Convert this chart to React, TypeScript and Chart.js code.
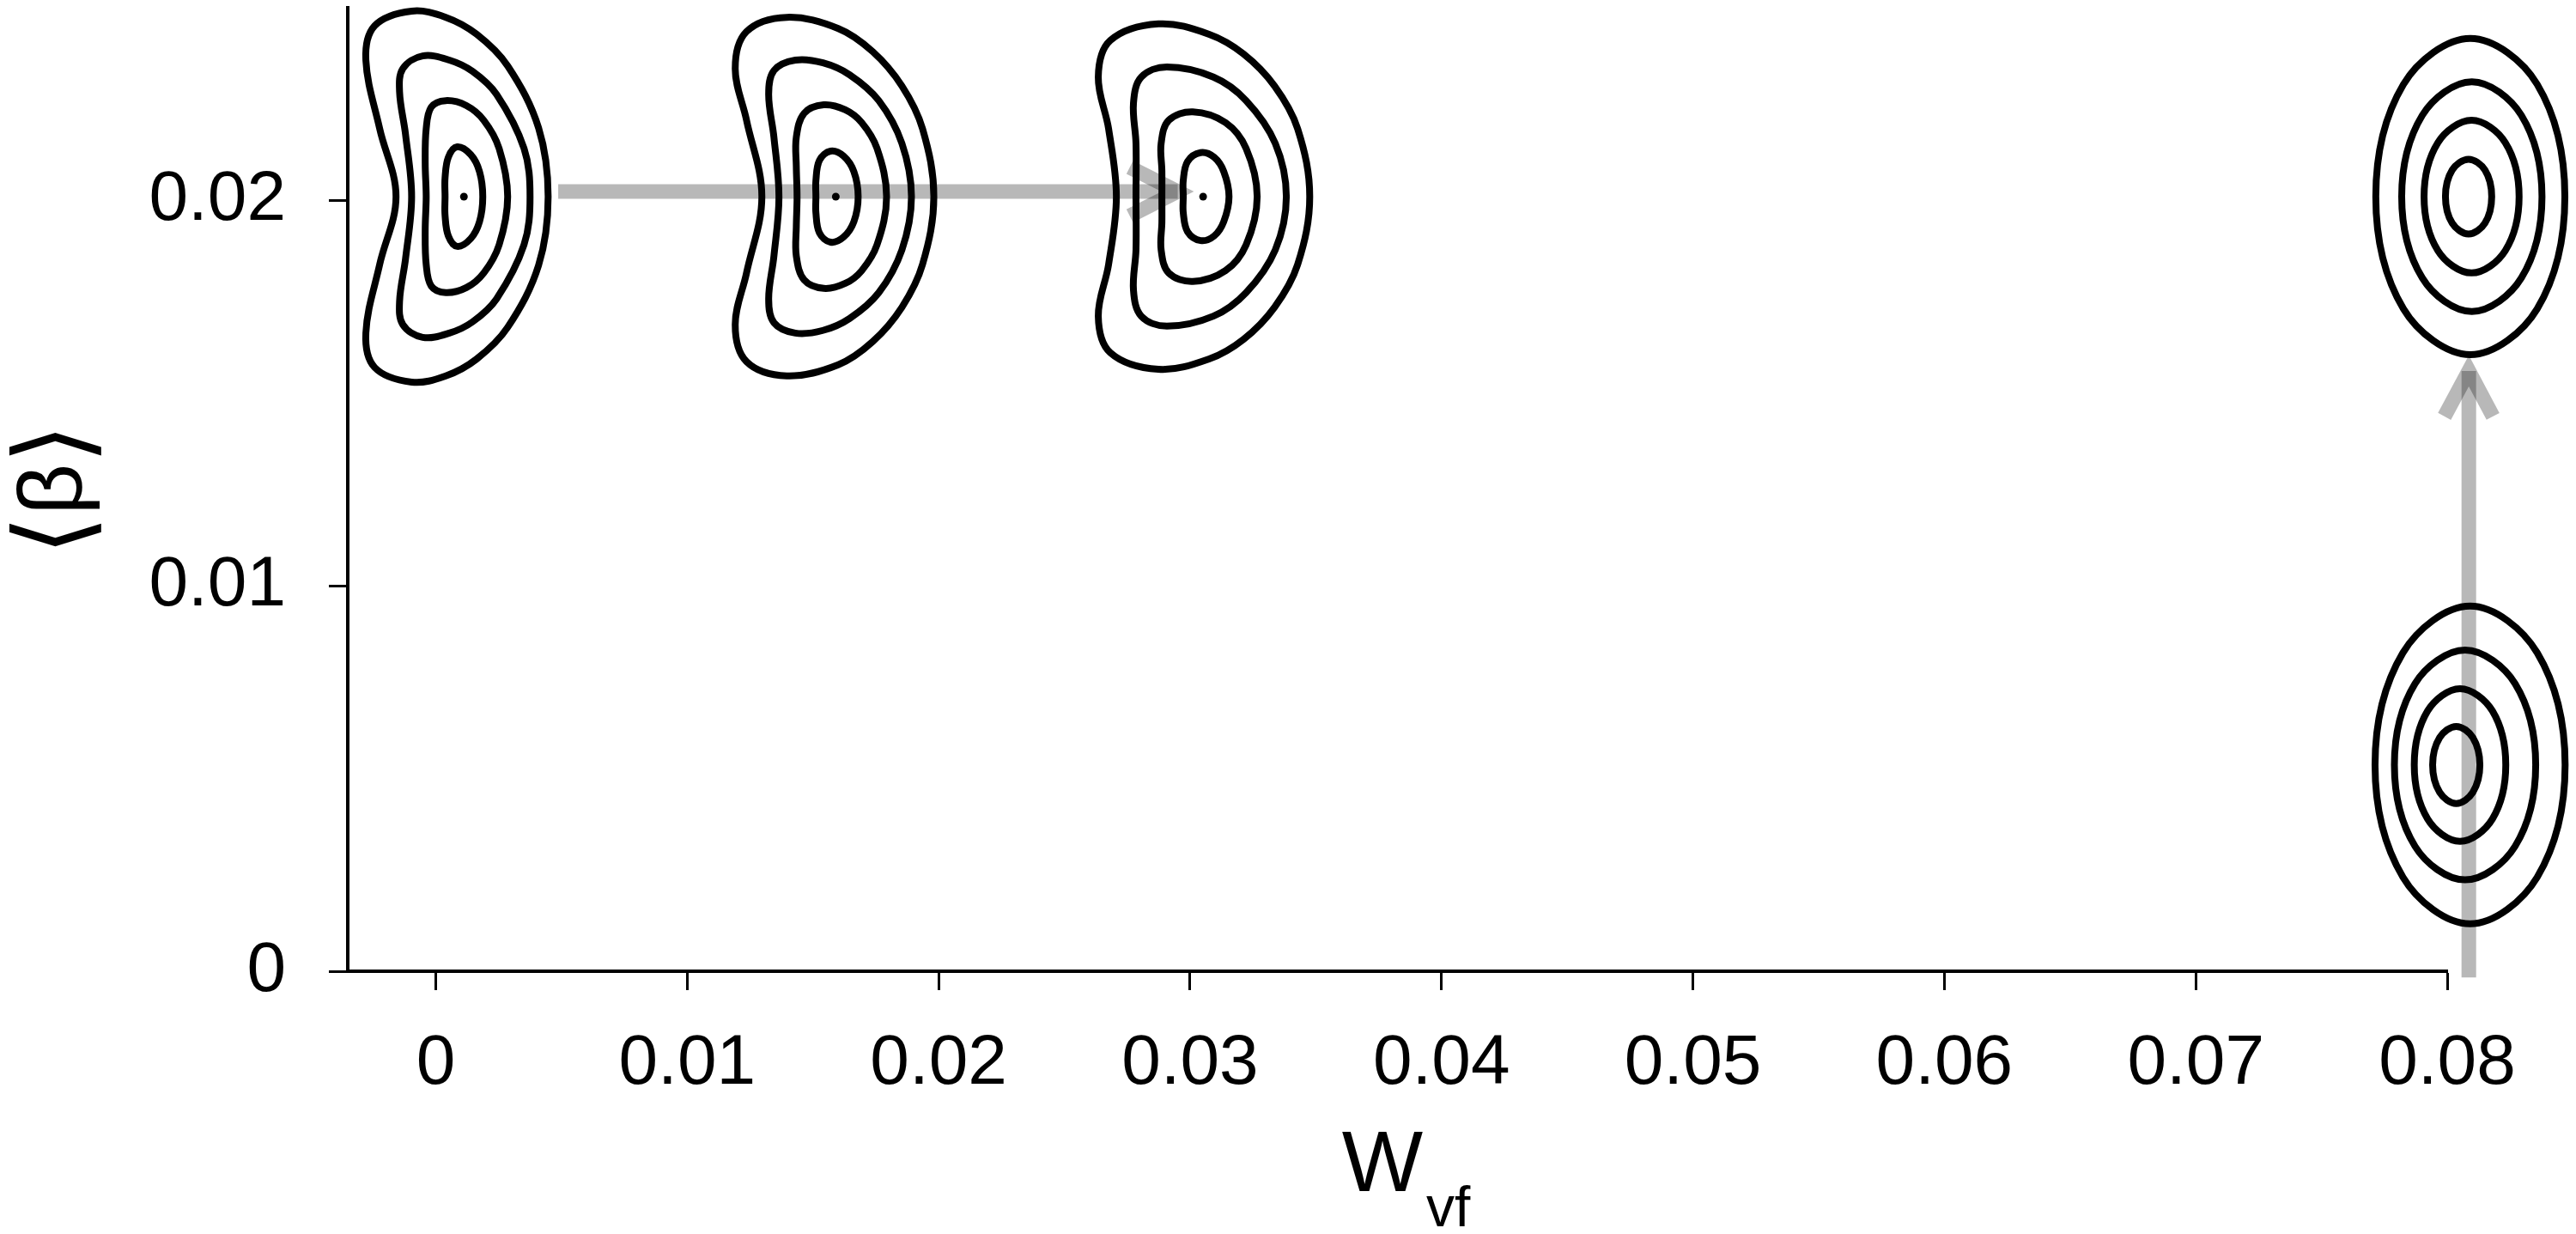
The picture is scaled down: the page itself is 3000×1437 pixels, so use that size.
import React, { useEffect, useRef } from 'react';
import { Chart, registerables } from 'chart.js';

Chart.register(...registerables);

// ---------- axes ----------
const X_MIN = -0.0035;
const X_MAX = 0.08;
const Y_MIN = 0;
const Y_MAX = 0.025;
const X_TICKS = [0, 0.01, 0.02, 0.03, 0.04, 0.05, 0.06, 0.07, 0.08];
const X_TICK_LABELS = ['0', '0.01', '0.02', '0.03', '0.04', '0.05', '0.06', '0.07', '0.08'];
const Y_TICKS = [0, 0.01, 0.02];
const Y_TICK_LABELS = ['0', '0.01', '0.02'];
const X_TITLE_MAIN = 'W';
const X_TITLE_SUB = 'vf';
const Y_TITLE_PARTS = ['\u27E8', '\u03B2', '\u27E9'];

// ---------- magnetic axis positions (W_vf, <beta>) ----------
const AXIS_W = [0.00112, 0.01591, 0.03052, 0.08083, 0.08034];
const AXIS_BETA = [0.02009, 0.02009, 0.02009, 0.02009, 0.00535];

// ---------- flux-surface outlines: upper half, offsets from axis, in units of 1e-4 ----------
const OFFSET_UNIT = 1e-4;

const SURF0_DX = [
  [33.5, 29.7, 17.4, 5.1, -7.2, -20.8, -35.5, -39.0, -33.5, -27.0],
  [26.3, 23.9, 13.0, 3.4, -5.8, -16.4, -24.3, -25.6, -23.2, -20.8],
  [17.4, 14.0, 7.9, 1.0, -7.2, -13.0, -15.0, -15.4, -15.0],
  [7.5, 6.2, 2.7, -2.7, -6.2, -7.5, -7.5],
];
const SURF0_DY = [
  [0, 17.8, 33.9, 42.1, 46.5, 48.1, 44.3, 35.4, 17.6, 0],
  [0, 12.5, 26.5, 32.5, 35.4, 36.5, 33.2, 27.2, 16.0, 0],
  [0, 12.5, 19.8, 23.6, 24.9, 23.2, 17.6, 8.7, 0],
  [0, 6.5, 10.9, 12.9, 10.2, 4.9, 0],
];

const SURF1_DX = [
  [39.0, 34.5, 26.3, 14.7, 1.0, -19.5, -35.5, -40.0, -35.5, -29.4],
  [30.1, 26.3, 17.1, 5.5, -5.1, -16.1, -24.6, -26.7, -24.6, -22.6],
  [20.2, 16.4, 10.3, 3.8, -4.8, -12.6, -15.7, -15.7, -15.4],
  [8.9, 7.2, 3.1, -2.1, -6.5, -7.9, -7.9],
];
const SURF1_DY = [
  [0, 17.6, 28.7, 37.6, 43.6, 46.5, 42.8, 33.2, 19.8, 0],
  [0, 13.8, 24.9, 31.6, 34.7, 35.4, 32.7, 26.5, 15.4, 0],
  [0, 12.5, 19.2, 22.5, 23.8, 21.6, 15.4, 7.8, 0],
  [0, 6.5, 10.5, 11.8, 9.4, 4.2, 0],
];

const SURF2_DX = [
  [42.4, 37.6, 28.4, 16.1, 2.4, -17.8, -36.9, -41.7, -37.6, -34.5],
  [33.1, 28.7, 17.1, 4.1, -14.4, -24.6, -27.7, -26.7, -26.7],
  [21.5, 17.1, 8.9, -4.1, -13.7, -16.7, -16.4, -16.4],
  [10.3, 8.2, 4.4, -1.0, -6.2, -7.9, -7.9],
];
const SURF2_DY = [
  [0, 17.6, 28.7, 37.0, 42.1, 44.8, 40.5, 31.0, 17.6, 0],
  [0, 13.8, 24.9, 31.0, 33.6, 31.0, 24.3, 13.8, 0],
  [0, 12.5, 19.2, 22.0, 19.8, 13.8, 6.7, 0],
  [0, 6.5, 10.2, 11.4, 9.1, 4.2, 0],
];

const SURF3_DX = [
  [38.5, 27.5, 0.9, -25.7, -36.7],
  [29.4, 21.2, 1.5, -18.2, -26.4],
  [20.3, 14.8, 1.4, -12.0, -17.5],
  [9.4, 6.7, 0.2, -6.3, -9.0],
];
const SURF3_DY = [
  [0, 29.1, 41.0, 29.1, 0],
  [0, 21.1, 29.8, 21.1, 0],
  [0, 14.0, 19.8, 14.0, 0],
  [0, 6.9, 9.7, 6.9, 0],
];

const SURF4_DX = [
  [43.5, 32.4, 5.7, -21.0, -32.1],
  [31.8, 23.6, 3.7, -16.2, -24.4],
  [19.9, 14.6, 1.7, -11.2, -16.5],
  [9.6, 6.8, 0.2, -6.4, -9.2],
];
const SURF4_DY = [
  [0, 29.1, 41.2, 29.1, 0],
  [0, 21.1, 29.8, 21.1, 0],
  [0, 14.0, 19.8, 14.0, 0],
  [0, 7.1, 10.0, 7.1, 0],
];

const SURF_DX = [SURF0_DX, SURF1_DX, SURF2_DX, SURF3_DX, SURF4_DX];
const SURF_DY = [SURF0_DY, SURF1_DY, SURF2_DY, SURF3_DY, SURF4_DY];

// ---------- arrows (W_vf, <beta>) ----------
const ARROW_SHAFT_W = [[0.00487, 0.02951], [0.08086, 0.08086]];
const ARROW_SHAFT_BETA = [[0.02022, 0.02022], [-0.00016, 0.01557]];
const ARROW_HEAD_W = [[0.0276, 0.02951, 0.0276], [0.07989, 0.08086, 0.08182]];
const ARROW_HEAD_BETA = [[0.02085, 0.02022, 0.01959], [0.01439, 0.01557, 0.01439]];

const FONT = "'Liberation Sans', Arial, Helvetica, sans-serif";

function buildLoop(cx: number, cy: number, dx: number[], dy: number[]) {
  const loop: { x: number; y: number }[] = [];
  for (let i = 0; i < dx.length; i++) {
    loop.push({ x: cx + dx[i] * OFFSET_UNIT, y: cy + dy[i] * OFFSET_UNIT });
  }
  for (let i = dx.length - 2; i >= 1; i--) {
    loop.push({ x: cx + dx[i] * OFFSET_UNIT, y: cy - dy[i] * OFFSET_UNIT });
  }
  const L = loop.length;
  // wrap so every drawn segment has both neighbours (smooth closed curve)
  return { data: [loop[L - 1], ...loop, loop[0], loop[1]], L };
}

const titlePlugin = {
  id: 'axisTitles',
  afterDraw(chart: any) {
    const { ctx, chartArea } = chart;
    ctx.save();
    ctx.fillStyle = '#000';
    ctx.textAlign = 'left';
    ctx.textBaseline = 'alphabetic';
    ctx.font = `100px ${FONT}`;
    const wMain = ctx.measureText(X_TITLE_MAIN).width;
    ctx.font = `66px ${FONT}`;
    const wSub = ctx.measureText(X_TITLE_SUB).width;
    const cx = (chartArea.left + chartArea.right) / 2 + 8;
    const x0 = cx - (wMain + wSub) / 2;
    ctx.font = `100px ${FONT}`;
    ctx.fillText(X_TITLE_MAIN, x0, chartArea.bottom + 256);
    ctx.font = `66px ${FONT}`;
    ctx.fillText(X_TITLE_SUB, x0 + wMain + 4, chartArea.bottom + 297);

    // rotated y title: brackets drawn a bit larger than beta
    ctx.translate(chartArea.left - 341, (chartArea.top + chartArea.bottom) / 2);
    ctx.rotate(-Math.PI / 2);
    const sizes = [120, 104, 120];
    const widths = Y_TITLE_PARTS.map((t, i) => {
      ctx.font = `${sizes[i]}px ${FONT}`;
      return ctx.measureText(t).width;
    });
    const total = widths.reduce((a, b) => a + b, 0);
    let x = -total / 2;
    ctx.textBaseline = 'alphabetic';
    Y_TITLE_PARTS.forEach((t, i) => {
      ctx.font = `${sizes[i]}px ${FONT}`;
      ctx.fillText(t, x, i === 1 ? 30 : 38);
      x += widths[i];
    });
    ctx.restore();
  },
};

export default function App() {
  const canvasRef = useRef<HTMLCanvasElement | null>(null);

  useEffect(() => {
    if (!canvasRef.current) return;
    const datasets: any[] = [];

    // magnetic axes (dots)
    datasets.push({
      data: AXIS_W.map((w, i) => ({ x: w, y: AXIS_BETA[i] })),
      showLine: false,
      pointRadius: 4.5,
      pointBackgroundColor: '#000',
      pointBorderWidth: 0,
      clip: false,
    });

    // flux surfaces
    AXIS_W.forEach((w, f) => {
      SURF_DX[f].forEach((dx, k) => {
        const { data, L } = buildLoop(w, AXIS_BETA[f], dx, SURF_DY[f][k]);
        datasets.push({
          data,
          showLine: true,
          borderColor: '#000',
          borderWidth: 8,
          borderCapStyle: 'round',
          borderJoinStyle: 'round',
          pointRadius: 0,
          tension: 0.36,
          clip: false,
          segment: {
            borderColor: (ctx: any) =>
              ctx.p0DataIndex === 0 || ctx.p0DataIndex === L + 1 ? 'rgba(0,0,0,0)' : undefined,
          },
        });
      });
    });

    // arrows (drawn underneath)
    const arrowStyle = {
      showLine: true,
      borderColor: 'rgba(0,0,0,0.28)',
      borderWidth: 17,
      borderCapStyle: 'butt',
      borderJoinStyle: 'miter',
      pointRadius: 0,
      tension: 0,
      clip: false,
    };
    ARROW_SHAFT_W.forEach((ws, a) => {
      datasets.push({ ...arrowStyle, data: ws.map((w, i) => ({ x: w, y: ARROW_SHAFT_BETA[a][i] })) });
      datasets.push({
        ...arrowStyle,
        data: ARROW_HEAD_W[a].map((w, i) => ({ x: w, y: ARROW_HEAD_BETA[a][i] })),
      });
    });

    const chart = new Chart(canvasRef.current, {
      type: 'scatter',
      data: { datasets },
      plugins: [titlePlugin],
      options: {
        animation: false,
        responsive: true,
        maintainAspectRatio: false,
        events: [],
        layout: { padding: { left: 0, top: 8.5, right: 150, bottom: 0 } },
        elements: { line: { capBezierPoints: false } },
        plugins: { legend: { display: false }, tooltip: { enabled: false } },
        scales: {
          x: {
            type: 'linear',
            position: 'bottom',
            bounds: 'data',
            afterDataLimits: (s: any) => {
              s.min = X_MIN;
              s.max = X_MAX;
            },
            afterBuildTicks: (s: any) => {
              s.ticks = X_TICKS.map((v) => ({ value: v }));
            },
            afterFit: (s: any) => {
              s.height = 306;
              s.paddingLeft = 0;
              s.paddingRight = 0;
            },
            grid: {
              drawOnChartArea: false,
              drawTicks: true,
              tickLength: 22,
              tickWidth: 3,
              tickColor: '#000',
            },
            border: { display: true, color: '#000', width: 4 },
            ticks: {
              autoSkip: false,
              maxRotation: 0,
              padding: 37,
              color: '#000',
              font: { family: FONT, size: 82 },
              callback: (_v: any, i: number) => X_TICK_LABELS[i],
            },
          },
          y: {
            type: 'linear',
            position: 'left',
            min: Y_MIN,
            max: Y_MAX,
            afterBuildTicks: (s: any) => {
              s.ticks = Y_TICKS.map((v) => ({ value: v }));
            },
            afterFit: (s: any) => {
              s.width = 405;
              s.paddingTop = 0;
              s.paddingBottom = 0;
            },
            grid: {
              drawOnChartArea: false,
              drawTicks: true,
              tickLength: 22,
              tickWidth: 3,
              tickColor: '#000',
            },
            border: { display: true, color: '#000', width: 4 },
            ticks: {
              autoSkip: false,
              padding: 50,
              color: '#000',
              font: { family: FONT, size: 82 },
              callback: (_v: any, i: number) => Y_TICK_LABELS[i],
            },
          },
        },
      },
    });
    return () => chart.destroy();
  }, []);

  return (
    <div style={{ position: 'fixed', left: 0, top: 0, width: 3000, height: 1437, background: '#fff' }}>
      <canvas ref={canvasRef} />
    </div>
  );
}
